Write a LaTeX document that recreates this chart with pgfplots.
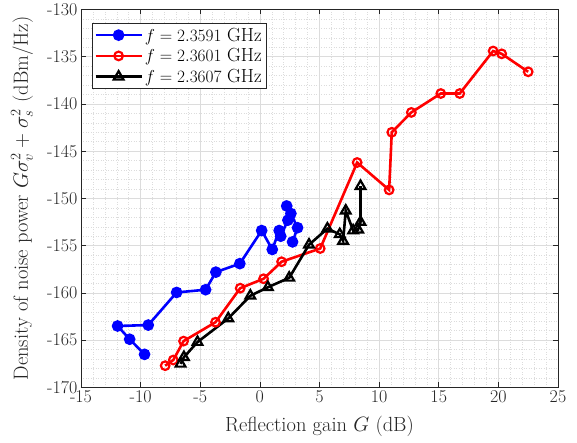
\documentclass[border=0pt]{standalone}
\usepackage{pgfplots}
\pgfplotsset{compat=1.18}
\definecolor{axgray}{RGB}{38,38,38}
\definecolor{gridgray}{RGB}{220,220,220}
\begin{document}
\begin{tikzpicture}
\begin{axis}[
 scale only axis, width=477pt, height=378pt,
 xmin=-15,xmax=25,ymin=-170,ymax=-130,
 xtick={-15,-10,...,25}, xticklabels={-15,-10,-5,0,5,10,15,20,25},
 ytick={-170,-165,...,-130}, yticklabels={-170,-165,-160,-155,-150,-145,-140,-135,-130},
 minor tick num=4,
 grid=both,
 major grid style={line width=0.6pt, draw=gridgray},
 minor grid style={line width=0.5pt, draw=gridgray, dotted},
 axis line style={draw=axgray, line width=0.7pt},
 tick style={draw=axgray, line width=0.7pt},
 major tick length=5pt, minor tick length=0pt,
 tick align=inside,
 tick label style={font=\fontsize{18}{21}\selectfont, text=axgray},
 label style={font=\fontsize{20.5}{24}\selectfont, text=axgray},
 xlabel={Reflection gain $G$ (dB)},
 ylabel={Density of noise power $G\sigma_v^2+\sigma_s^2$ (dBm/Hz)},
 xlabel style={at={(axis description cs:0.5,-0.103)}, anchor=center},
 ylabel style={at={(axis description cs:-0.1237,0.5)}, anchor=center},
 legend style={at={(0.023,0.963)}, anchor=north west, font=\fontsize{19}{22}\selectfont, draw=axgray, line width=0.7pt, inner sep=2pt, row sep=2pt},
 legend cell align=left,
 legend image code/.code={\draw[mark repeat=2,mark phase=2] plot coordinates {(0pt,0pt)(23pt,0pt)(46pt,0pt)};},
]
\addplot[blue, line width=2.6pt, mark=*, mark size=4.5pt, mark options={solid, fill=blue}] coordinates {
(-9.67,-166.5) (-10.92,-164.9) (-11.93,-163.5) (-9.36,-163.4) (-6.98,-159.95) (-4.55,-159.66) (-3.69,-157.8) (-1.68,-156.9) (0.15,-153.4) (1.04,-155.4) (1.62,-153.4) (1.75,-154.0) (2.35,-152.3) (2.25,-150.8) (2.6,-151.6) (3.16,-153.1) (2.74,-154.6)
};
\addlegendentry{$f=2.3591$ GHz}
\addplot[red, line width=2.6pt, mark=o, mark size=4.3pt, mark options={solid, line width=2.2pt}] coordinates {
(-7.94,-167.7) (-7.26,-167.1) (-6.4,-165.1) (-3.72,-163.1) (-1.65,-159.5) (0.31,-158.5) (1.82,-156.7) (5.06,-155.3) (8.16,-146.2) (10.84,-149.1) (11.06,-143.0) (12.7,-140.9) (15.17,-138.9) (16.76,-138.9) (19.56,-134.4) (20.28,-134.7) (22.5,-136.6)
};
\addlegendentry{$f=2.3601$ GHz}
\addplot[black, line width=2.6pt, mark=triangle, mark size=5.6pt, mark options={solid, line width=2.2pt}] coordinates {
(-6.65,-167.5) (-6.37,-166.8) (-5.23,-165.2) (-2.65,-162.7) (-0.8,-160.3) (0.67,-159.4) (2.46,-158.4) (4.12,-154.9) (5.66,-153.2) (6.7,-153.8) (6.98,-154.5) (7.2,-151.3) (7.82,-153.4) (8.24,-153.3) (8.44,-152.5) (8.44,-148.7)
};
\addlegendentry{$f=2.3607$ GHz}
\end{axis}
\path ([xshift=-81pt,yshift=-55pt]current axis.south west) rectangle ([xshift=19pt,yshift=8pt]current axis.north east);
\end{tikzpicture}
\end{document}
